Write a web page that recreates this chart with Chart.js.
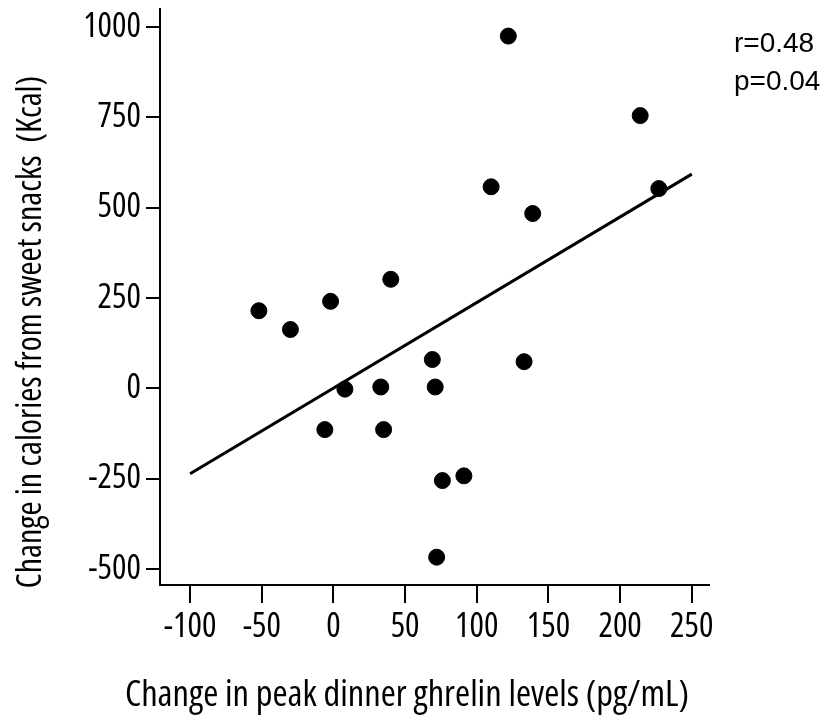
<!DOCTYPE html>
<html>
<head>
<meta charset="utf-8">
<script src="https://cdn.jsdelivr.net/npm/chart.js@4"></script>
<style>
    html, body { margin: 0; padding: 0; background: #fff; }
    #wrap { width: 825px; height: 722px; }
</style>
</head>
<body>
<div id="wrap"><canvas id="ghrelin-chart"></canvas></div>
<script>
// values
const ghrelinChange = [-52, -30, -2, 40, 69, 133, 8, 33, 71, -6, 35, 76, 91, 72, 122, 214, 110, 139, 227];
const snackCalories = [215, 163, 241, 302, 80, 74, -2, 4, 4, -114, -114, -255, -242, -467, 975, 755, 558, 484, 553];

// regression line end points
const fitX = [-100, 250];
const fitY = [-236, 593];

const xTicks = [-100, -50, 0, 50, 100, 150, 200, 250];
const yTicks = [-500, -250, 0, 250, 500, 750, 1000];

const xTitle = 'Change in peak dinner ghrelin levels (pg/mL)';
const yTitle = 'Change in calories from sweet snacks  (Kcal)';
const statsText = ['r=0.48', 'p=0.04'];

// Open Sans has a width axis, so "condensed" gives a narrow face
const narrowFamily = '"Open Sans", "DejaVu Sans Condensed", sans-serif';

const textPlugin = {
    id: 'textPlugin',
    afterDraw(chart) {
        const ctx = chart.ctx;
        ctx.save();
        ctx.fillStyle = '#000';
        ctx.textBaseline = 'middle';
        ctx.textAlign = 'center';
        ctx.font = 'normal condensed 36.5px ' + narrowFamily;
        ctx.fillText(xTitle, 407, 696);

        ctx.save();
        ctx.translate(31, 332);
        ctx.rotate(-Math.PI / 2);
        ctx.font = 'normal condensed 34px ' + narrowFamily;
        ctx.fillText(yTitle, 0, 0);
        ctx.restore();

        ctx.textAlign = 'left';
        ctx.font = '28px "Liberation Sans", Arial, sans-serif';
        ctx.fillText(statsText[0], 734, 44);
        ctx.fillText(statsText[1], 734, 82);
        ctx.restore();
    }
};

const ctx = document.getElementById('ghrelin-chart');

new Chart(ctx, {
    type: 'scatter',
    data: {
        datasets: [
            {
                label: 'Subjects',
                data: ghrelinChange.map((x, i) => ({ x: x, y: snackCalories[i] })),
                backgroundColor: '#000',
                borderColor: '#000',
                pointRadius: 8,
                pointHoverRadius: 8
            },
            {
                type: 'line',
                label: 'Fit',
                data: fitX.map((x, i) => ({ x: x, y: fitY[i] })),
                borderColor: '#000',
                borderWidth: 3,
                pointRadius: 0,
                fill: false
            }
        ]
    },
    options: {
        responsive: true,
        maintainAspectRatio: false,
        animation: false,
        layout: { padding: { top: 8, right: 116, left: 0, bottom: 0 } },
        plugins: {
            legend: { display: false },
            tooltip: { enabled: false }
        },
        scales: {
            x: {
                type: 'linear',
                min: -121,
                max: 262,
                afterBuildTicks: (scale) => { scale.ticks = xTicks.map(v => ({ value: v })); },
                afterFit: (scale) => {
                    scale.height = 137;
                    scale.paddingLeft = 0;
                    scale.paddingRight = 0;
                },
                ticks: {
                    color: '#000',
                    font: { family: narrowFamily, weight: 'normal condensed', size: 34 },
                    padding: 4,
                    callback: (v) => String(v)
                },
                grid: {
                    drawOnChartArea: false,
                    color: '#000',
                    lineWidth: 2,
                    tickLength: 18
                },
                border: { color: '#000', width: 2 }
            },
            y: {
                type: 'linear',
                min: -544,
                max: 1050,
                afterBuildTicks: (scale) => { scale.ticks = yTicks.map(v => ({ value: v })); },
                afterFit: (scale) => {
                    scale.width = 160;
                    scale.paddingTop = 0;
                    scale.paddingBottom = 0;
                },
                ticks: {
                    color: '#000',
                    font: { family: narrowFamily, weight: 'normal condensed', size: 34 },
                    padding: 5,
                    callback: (v) => String(v)
                },
                grid: {
                    drawOnChartArea: false,
                    color: '#000',
                    lineWidth: 2,
                    tickLength: 14
                },
                border: { color: '#000', width: 2 }
            }
        }
    },
    plugins: [textPlugin]
});
</script>
</body>
</html>
